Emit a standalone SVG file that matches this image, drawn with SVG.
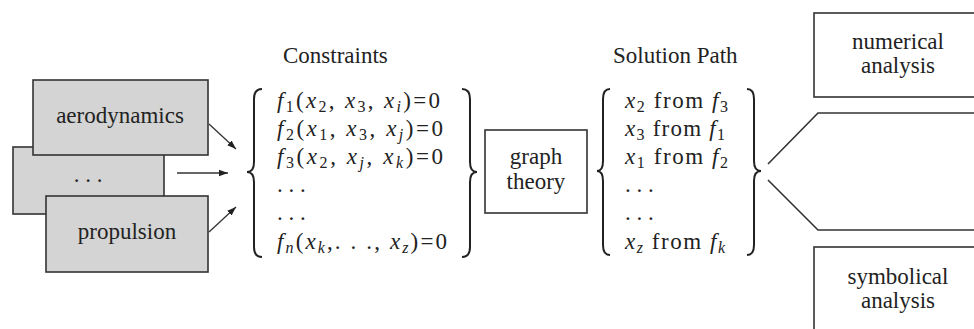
<svg xmlns="http://www.w3.org/2000/svg" width="974" height="329" viewBox="0 0 974 329">
<style>
.t{font-family:'Liberation Serif','Times New Roman',Tinos,'DejaVu Serif','Noto Serif',Times,serif;font-size:23px;fill:#222}
.c{text-anchor:middle}
.i{font-style:italic}
.s{font-size:16px}
.box{stroke:#333;stroke-width:1.6}
.g{fill:#d4d4d4}
.w{fill:#fff}
.ln{fill:none;stroke:#333;stroke-width:1.3}
.br{fill:none;stroke:#222;stroke-width:2}
</style>
<defs>
<marker id="ah" markerWidth="10" markerHeight="8" refX="9" refY="4" orient="auto" markerUnits="userSpaceOnUse">
<path d="M0,0.8 L9,4 L0,7.2 Z" fill="#222"/>
</marker>
</defs>
<rect width="974" height="329" fill="#fff"/>

<g id="discipline-dots">
<rect class="box g" x="13" y="147" width="151" height="67"/>
<text class="t c" x="88" y="182" font-family="Liberation Serif">. . .</text>
</g>
<g id="aerodynamics">
<rect class="box g" x="33" y="80" width="175" height="75"/>
<text class="t c" x="120" y="123" font-family="Liberation Serif">aerodynamics</text>
</g>
<g id="propulsion">
<rect class="box g" x="46" y="196" width="162" height="76"/>
<text class="t c" x="127" y="239" font-family="Liberation Serif">propulsion</text>
</g>

<g id="constraints" font-family="Liberation Serif">
<text class="t" x="283" y="63">Constraints</text>
<path class="br" d="M262,89 Q254,89 254,99 L254,162 Q254,172 247,172 Q254,172 254,182 L254,247 Q254,257 262,257"/>
<path class="br" d="M462,89 Q470,89 470,99 L470,162 Q470,172 477,172 Q470,172 470,182 L470,247 Q470,257 462,257"/>
<text class="t" x="277" y="108" textLength="163" lengthAdjust="spacing"><tspan class="i">f</tspan><tspan class="s" dy="4">1</tspan><tspan dy="-4">(</tspan><tspan class="i">x</tspan><tspan class="s" dy="4">2</tspan><tspan dy="-4">, </tspan><tspan class="i">x</tspan><tspan class="s" dy="4">3</tspan><tspan dy="-4">, </tspan><tspan class="i">x</tspan><tspan class="s i" dy="4">i</tspan><tspan dy="-4">)=0</tspan></text>
<text class="t" x="277" y="136" textLength="166" lengthAdjust="spacing"><tspan class="i">f</tspan><tspan class="s" dy="4">2</tspan><tspan dy="-4">(</tspan><tspan class="i">x</tspan><tspan class="s" dy="4">1</tspan><tspan dy="-4">, </tspan><tspan class="i">x</tspan><tspan class="s" dy="4">3</tspan><tspan dy="-4">, </tspan><tspan class="i">x</tspan><tspan class="s i" dy="4">j</tspan><tspan dy="-4">)=0</tspan></text>
<text class="t" x="277" y="164" textLength="166" lengthAdjust="spacing"><tspan class="i">f</tspan><tspan class="s" dy="4">3</tspan><tspan dy="-4">(</tspan><tspan class="i">x</tspan><tspan class="s" dy="4">2</tspan><tspan dy="-4">, </tspan><tspan class="i">x</tspan><tspan class="s i" dy="4">j</tspan><tspan dy="-4">, </tspan><tspan class="i">x</tspan><tspan class="s i" dy="4">k</tspan><tspan dy="-4">)=0</tspan></text>
<text class="t" x="277" y="192">. . .</text>
<text class="t" x="277" y="220">. . .</text>
<text class="t" x="277" y="249" textLength="170" lengthAdjust="spacing"><tspan class="i">f</tspan><tspan class="s i" dy="4">n</tspan><tspan dy="-4">(</tspan><tspan class="i">x</tspan><tspan class="s i" dy="4">k</tspan><tspan dy="-4">,. . ., </tspan><tspan class="i">x</tspan><tspan class="s i" dy="4">z</tspan><tspan dy="-4">)=0</tspan></text>
</g>

<g id="graph-theory" font-family="Liberation Serif">
<rect class="box w" x="485" y="130" width="102" height="83"/>
<text class="t c" x="536" y="164">graph</text>
<text class="t c" x="536" y="189">theory</text>
</g>

<g id="solution-path" font-family="Liberation Serif">
<text class="t" x="613" y="63">Solution Path</text>
<path class="br" d="M610,89 Q603,89 603,99 L603,161 Q603,171 597,171 Q603,171 603,181 L603,245 Q603,255 610,255"/>
<path class="br" d="M747,89 Q754,89 754,99 L754,161 Q754,171 761,171 Q754,171 754,181 L754,245 Q754,255 747,255"/>
<text class="t" x="625" y="108" textLength="103" lengthAdjust="spacing"><tspan class="i">x</tspan><tspan class="s" dy="4">2</tspan><tspan dy="-4"> from </tspan><tspan class="i">f</tspan><tspan class="s" dy="4">3</tspan></text>
<text class="t" x="625" y="136" textLength="100" lengthAdjust="spacing"><tspan class="i">x</tspan><tspan class="s" dy="4">3</tspan><tspan dy="-4"> from </tspan><tspan class="i">f</tspan><tspan class="s" dy="4">1</tspan></text>
<text class="t" x="625" y="164" textLength="103" lengthAdjust="spacing"><tspan class="i">x</tspan><tspan class="s" dy="4">1</tspan><tspan dy="-4"> from </tspan><tspan class="i">f</tspan><tspan class="s" dy="4">2</tspan></text>
<text class="t" x="625" y="192">. . .</text>
<text class="t" x="625" y="220">. . .</text>
<text class="t" x="625" y="249" textLength="100" lengthAdjust="spacing"><tspan class="i">x</tspan><tspan class="s i" dy="4">z</tspan><tspan dy="-4"> from </tspan><tspan class="i">f</tspan><tspan class="s i" dy="4">k</tspan></text>
</g>

<g id="numerical-analysis" font-family="Liberation Serif">
<rect class="box w" x="814" y="13" width="170" height="84"/>
<text class="t c" x="898" y="49">numerical</text>
<text class="t c" x="898" y="73">analysis</text>
</g>

<g id="middle-channel">
<path class="ln" style="stroke-width:1.6" d="M984,113 L818,113 L768,164 M768,180 L818,230 L984,230"/>
</g>

<g id="symbolical-analysis" font-family="Liberation Serif">
<rect class="box w" x="814" y="247" width="170" height="100"/>
<text class="t c" x="898" y="284">symbolical</text>
<text class="t c" x="898" y="308">analysis</text>
</g>

<g id="connectors">
<line class="ln" x1="209" y1="124" x2="236" y2="149" marker-end="url(#ah)"/>
<line class="ln" x1="177" y1="173" x2="228" y2="173" marker-end="url(#ah)"/>
<line class="ln" x1="209" y1="232" x2="236" y2="207" marker-end="url(#ah)"/>
</g>
</svg>
